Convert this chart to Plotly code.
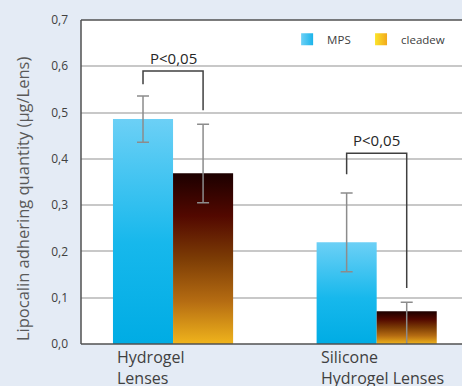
import plotly.graph_objects as go

# Lens groups and the two cleaning solutions
categories = ["Hydrogel<br>Lenses", "Silicone<br>Hydrogel Lenses"]
series_names = ["MPS", "cleadew"]

# Lipocalin adhering quantity (µg/Lens) with upper / lower error extents
mps_values = [0.486, 0.220]
mps_err_plus = [0.050, 0.106]
mps_err_minus = [0.050, 0.064]

cleadew_values = [0.369, 0.071]
cleadew_err_plus = [0.106, 0.019]
cleadew_err_minus = [0.064, 0.077]

# Significance brackets: top level, left leg end, right leg end
bracket_top = [0.590, 0.412]
bracket_left_end = [0.561, 0.367]
bracket_right_end = [0.505, 0.121]
bracket_label = "P<0,05"

y_ticks = [0.0, 0.1, 0.2, 0.3, 0.4, 0.5, 0.6, 0.7]

BAR_W = 0.295
FONT = "Open Sans"

mps_scale = [[0.0, "#00ACE4"], [0.45, "#17B8EC"], [1.0, "#6CD0F6"]]
cleadew_scale = [[0.0, "#F0B41C"], [0.25, "#B56C12"], [0.5, "#7C3C05"],
                 [0.75, "#520800"], [1.0, "#1C0000"]]

fig = go.Figure()


def add_bar(x0, x1, v, scale):
    fig.add_trace(go.Scatter(
        x=[x0, x0, x1, x1, x0], y=[0, v, v, 0, 0],
        mode="lines", line=dict(width=0), fill="toself",
        fillgradient=dict(type="vertical", colorscale=scale),
        hoverinfo="skip", showlegend=False))


for i in range(len(categories)):
    add_bar(i - BAR_W, i, mps_values[i], mps_scale)
    add_bar(i, i + BAR_W, cleadew_values[i], cleadew_scale)

err_style = dict(type="data", symmetric=False, color="#8C8C8C", thickness=1.5, width=6)
idx = list(range(len(categories)))
fig.add_trace(go.Scatter(
    x=[i - BAR_W / 2 for i in idx], y=mps_values, mode="markers",
    marker=dict(size=1, opacity=0), cliponaxis=False,
    error_y=dict(array=mps_err_plus, arrayminus=mps_err_minus, **err_style),
    hoverinfo="skip", showlegend=False))
fig.add_trace(go.Scatter(
    x=[i + BAR_W / 2 for i in idx], y=cleadew_values, mode="markers",
    marker=dict(size=1, opacity=0), cliponaxis=False,
    error_y=dict(array=cleadew_err_plus, arrayminus=cleadew_err_minus, **err_style),
    hoverinfo="skip", showlegend=False))

# Legend entries with gradient swatches, one legend box per series
fig.add_trace(go.Scatter(
    x=[None], y=[None], mode="markers", name=series_names[0], legend="legend",
    marker=dict(symbol="square", size=12, color="#6CD0F6",
                gradient=dict(type="horizontal", color="#1CB4EA"))))
fig.add_trace(go.Scatter(
    x=[None], y=[None], mode="markers", name=series_names[1], legend="legend2",
    marker=dict(symbol="square", size=12, color="#FBE42A",
                gradient=dict(type="horizontal", color="#F2A91C"))))

# Significance brackets
for i in range(len(categories)):
    xl, xr = i - BAR_W / 2, i + BAR_W / 2
    fig.add_shape(type="path",
                  path=f"M {xl} {bracket_left_end[i]} L {xl} {bracket_top[i]} "
                       f"L {xr} {bracket_top[i]} L {xr} {bracket_right_end[i]}",
                  line=dict(color="#404040", width=1.5), layer="above")
    fig.add_annotation(x=i, y=bracket_top[i], text=bracket_label, showarrow=False,
                       xanchor="center", yanchor="bottom", yshift=1,
                       font=dict(family=FONT, size=15, color="#262626"))

# Plot frame: left, top and bottom edges
frame = dict(type="line", xref="paper", yref="paper", layer="above",
             line=dict(color="#505050", width=1.5))
fig.add_shape(x0=0, x1=0, y0=0, y1=1, **frame)
fig.add_shape(x0=0, x1=1, y0=1, y1=1, **frame)
fig.add_shape(x0=0, x1=1, y0=0, y1=0, **frame)

# Category labels, left aligned under each group
for i, cat in enumerate(categories):
    fig.add_annotation(x=i - BAR_W, y=0, yref="paper", text=cat, showarrow=False,
                       xanchor="left", yanchor="top", align="left", xshift=2, yshift=0,
                       font=dict(family=FONT, size=16, color="#404040"))

# Rotated axis title
fig.add_annotation(x=0, xref="paper", y=0.5, yref="paper", xshift=-59, yshift=-17,
                   text="Lipocalin adhering quantity (µg/Lens)", textangle=-90,
                   showarrow=False, xanchor="center", yanchor="middle",
                   font=dict(family=FONT, size=16.5, color="#595959"))

legend_style = dict(orientation="h", xanchor="left", y=0.985, yanchor="top",
                    bgcolor="rgba(0,0,0,0)", itemwidth=30,
                    font=dict(family=FONT, size=11.5, color="#404040"))

fig.update_layout(
    width=462, height=386,
    margin=dict(l=81, r=0, t=20, b=42, autoexpand=False),
    paper_bgcolor="#E4EBF5", plot_bgcolor="#FFFFFF",
    separators=", ",
    font=dict(family=FONT, color="#404040"),
    legend=dict(x=0.541, **legend_style),
    legend2=dict(x=0.735, **legend_style),
    xaxis=dict(range=[-0.452, 1.419], showticklabels=False, showgrid=False,
               zeroline=False, showline=False, ticks="", automargin=False),
    yaxis=dict(range=[0, 0.7], tickvals=y_ticks, tickformat=".1f",
               showgrid=True, gridcolor="#C8C8C8", gridwidth=1.5, zeroline=False,
               showline=False, ticks="", automargin=False, ticklabelstandoff=12,
               tickfont=dict(family=FONT, size=12, color="#404040")),
)

fig.write_html("out.html")
